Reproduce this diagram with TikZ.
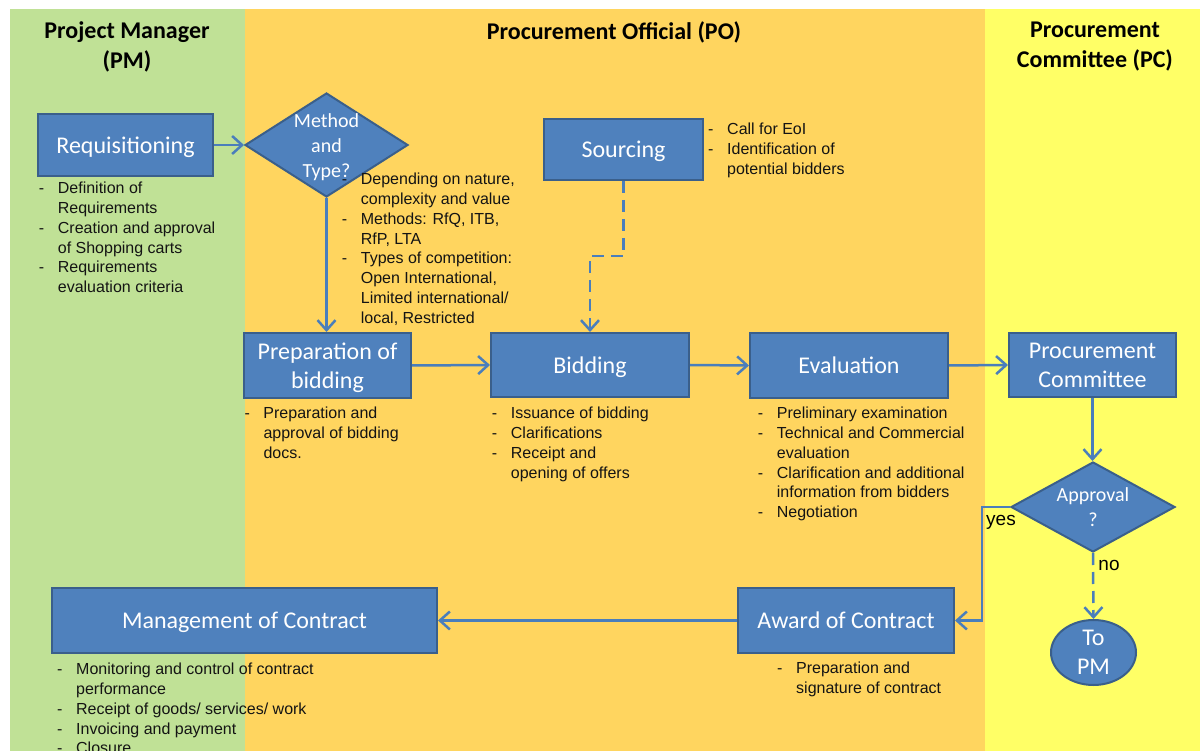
\documentclass[tikz,border=0pt]{standalone}
\usepackage{fontspec}
\setmainfont{Liberation Sans}
\newfontfamily\calfont{Carlito}
\usetikzlibrary{arrows.meta,shapes.geometric}
\definecolor{pmgreen}{HTML}{C0E196}
\definecolor{poorange}{HTML}{FFD55F}
\definecolor{pcyellow}{HTML}{FFFF66}
\definecolor{boxfill}{HTML}{4F81BD}
\definecolor{boxline}{HTML}{3A5F8B}
\definecolor{linec}{HTML}{4A7EBB}
\definecolor{txt}{HTML}{141414}
\newcommand{\li}{\makebox[19pt][l]{-}}
\newcommand{\lc}{\hspace*{19pt}}
\begin{document}
\begin{tikzpicture}[x=1pt,y=-1pt,
  hdr/.style={font=\calfont\bfseries\fontsize{24}{30}\selectfont, align=center, inner sep=0, text=black},
  box/.style={draw=boxline, fill=boxfill, line width=2pt, text=white, font=\calfont\fontsize{24}{29}\selectfont, align=center, inner sep=0, text depth=0pt},
  dia/.style={diamond, draw=boxline, fill=boxfill, line width=2pt, inner sep=0},
  dtext/.style={text=white, font=\calfont\fontsize{20}{25}\selectfont, align=center, inner sep=0, text depth=0pt},
  lst/.style={anchor=north west, inner sep=0, align=left, text=txt, font=\fontsize{16}{19.8}\selectfont},
  lbl/.style={inner sep=0, text=black, font=\fontsize{19}{22}\selectfont},
  conn/.style={draw=linec, line width=2.5pt, -{Straight Barb[length=10pt,width=18pt]}},
  dconn/.style={conn, dash pattern=on 12pt off 7pt}
]
\useasboundingbox (0,0) rectangle (1200,751);
\fill[white] (0,0) rectangle (1200,751);
\fill[pmgreen] (10,9) rectangle (245,751);
\fill[poorange] (245,9) rectangle (985,751);
\fill[pcyellow] (985,9) rectangle (1200,751);

% headers
\node[hdr] (hpm) at (127,47) {Project Manager\\(PM)};
\node[hdr] (hpo) at (614,32) {Procurement Official (PO)};
\node[hdr] (hpc) at (1095,47) {Procurement\\Committee (PC)};

% nodes
\node[box, minimum width=175pt, minimum height=62pt] (req) at (125.5,145) {Requisitioning};
\node[dia, minimum width=163pt, minimum height=104pt] (meth) at (326.5,145) {};
\node[dtext] (methT) at (326.5,146) {Method\\and\\Type?};
\node[box, minimum width=159pt, minimum height=61pt] (src) at (623.5,149.5) {Sourcing};
\node[box, minimum width=167pt, minimum height=65pt] (prep) at (327.5,365.5) {Preparation of\\bidding};
\node[box, minimum width=198pt, minimum height=64pt] (bid) at (590,365) {Bidding};
\node[box, minimum width=198pt, minimum height=65pt] (eval) at (849,365.5) {Evaluation};
\node[box, minimum width=167pt, minimum height=64pt] (pc) at (1092.5,365) {Procurement\\Committee};
\node[dia, minimum width=164pt, minimum height=90pt] (appr) at (1093,507) {};
\node[dtext] (apprT) at (1093,507) {Approval\\?};
\node[box, minimum width=216pt, minimum height=65pt] (award) at (846,620.5) {Award of Contract};
\node[box, minimum width=385pt, minimum height=65pt] (mgmt) at (244.5,620.5) {Management of Contract};
\node[box, ellipse, minimum width=85pt, minimum height=65pt] (topm) at (1093.5,652.5) {To\\PM};

% connectors
\draw[conn] (req.east) -- (meth.west);
\draw[conn] (meth.south) -- (meth.south |- prep.north);
\coordinate (sbend) at (623.5,256);
\draw[dconn] (src.south) -- (sbend) -| (bid.north);
\draw[conn] (prep.east) -- (bid.west);
\draw[conn] (bid.east) -- (eval.west);
\draw[conn] (eval.east) -- (pc.west);
\draw[conn] (pc.south) -- (pc.south |- appr.north);
\coordinate (ybend) at (982,507);
\draw[conn] (appr.west) -- (ybend) |- (award.east);
\draw[dconn] (appr.south) -- (topm.north);
\draw[conn] (award.west) -- (mgmt.east);

\node[lbl] (yes) at (1001,522) {yes};
\node[lbl] (no) at (1109,565) {no};

% lists
\node[lst] (reqL) at (38.7,182) {\li Definition of\\ \lc Requirements\\ \li Creation and approval\\ \lc of Shopping carts\\ \li Requirements\\ \lc evaluation criteria};
\node[lst] (methL) at (341.7,173) {\li Depending on nature,\\ \lc complexity and value\\ \li Methods: RfQ, ITB,\\ \lc RfP, LTA\\ \li Types of competition:\\ \lc Open International,\\ \lc Limited international/\\ \lc local, Restricted};
\node[lst] (srcL) at (708,123) {\li Call for EoI\\ \li Identification of\\ \lc potential bidders};
\node[lst] (prepL) at (244.3,407) {\li Preparation and\\ \lc approval of bidding\\ \lc docs.};
\node[lst] (bidL) at (491.7,407) {\li Issuance of bidding\\ \li Clarifications\\ \li Receipt and\\ \lc opening of offers};
\node[lst] (evalL) at (757.7,407) {\li Preliminary examination\\ \li Technical and Commercial\\ \lc evaluation\\ \li Clarification and additional\\ \lc information from bidders\\ \li Negotiation};
\node[lst] (awardL) at (777,662) {\li Preparation and\\ \lc signature of contract};
\node[lst] (mgmtL) at (57,663) {\li Monitoring and control of contract\\ \lc performance\\ \li Receipt of goods/ services/ work\\ \li Invoicing and payment\\ \li Closure};
\end{tikzpicture}
\end{document}
